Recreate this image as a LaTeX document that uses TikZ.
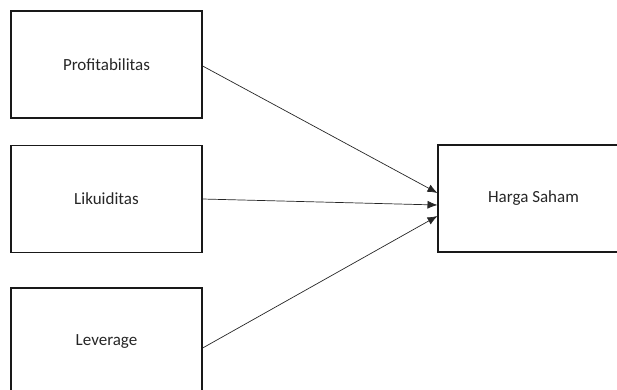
\documentclass[tikz,border=0pt]{standalone}
\usepackage{fontspec}
\setmainfont{Carlito}
\usetikzlibrary{arrows.meta}
\begin{document}
\begin{tikzpicture}[x=1pt,y=-1pt,
  varbox/.style={draw=black!90,line width=1.3pt,minimum width=191pt,minimum height=107pt,inner sep=0pt,font=\fontsize{17}{20}\selectfont,text=black!85},
  link/.style={draw=black!85,line width=0.7pt,-{Latex[length=10pt,width=8pt]}}]
\useasboundingbox (0,0) rectangle (617,389);
\node[varbox] (p) at (106.5,64.5) {Profitabilitas};
\node[varbox] (l) at (106.5,199) {Likuiditas};
\node[varbox] (v) at (106.5,341.5) {Leverage};
\node[varbox] (h) at (533.5,198.5) {Harga Saham};
\coordinate (t1) at (437.5,193);
\coordinate (t2) at (437.5,205);
\coordinate (t3) at (437.5,216);
\draw[link] (p.east |- 0,66) -- (t1);
\draw[link] (l.east) -- (t2);
\draw[link] (v.east |- 0,348) -- (t3);
\end{tikzpicture}
\end{document}
